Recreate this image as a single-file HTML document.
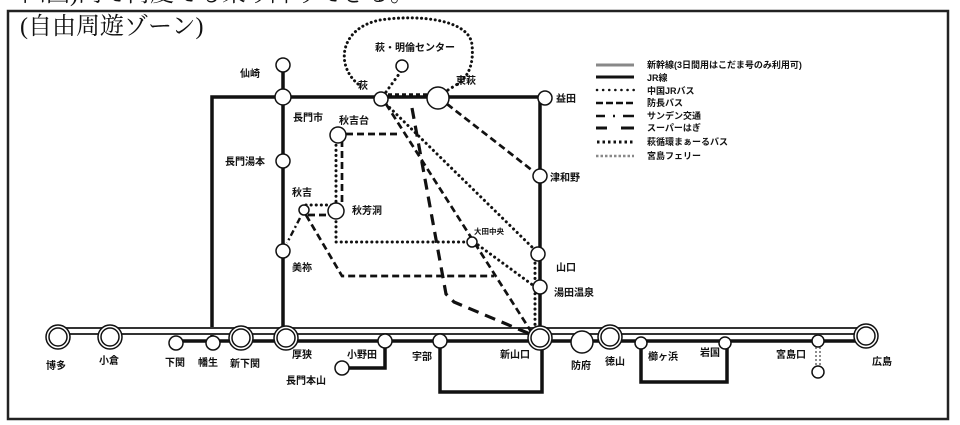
<!DOCTYPE html>
<html><head><meta charset="utf-8"><style>
html,body{margin:0;padding:0;background:#fff;width:960px;height:425px;overflow:hidden}
svg{display:block}
text{font-family:"Liberation Sans","Noto Sans CJK JP",sans-serif;font-weight:bold;fill:#111}
text.t{font-family:"Liberation Serif","Noto Serif CJK SC",serif;font-weight:normal}
</style></head><body>
<svg width="960" height="425" viewBox="0 0 960 425" xmlns="http://www.w3.org/2000/svg">
<text class="t" x="22" y="1" font-size="24">四国)内で何度でも乗り降りできる。</text>
<rect x="8" y="11" width="940" height="408" fill="#fff" stroke="#222" stroke-width="2.5"/>
<text class="t" x="20" y="34" font-size="24">(自由周遊ゾーン)</text>

<g fill="none" stroke="#111">
<path d="M358,84 C335,65 340,28 380,20 C420,14 470,20 472,45 C474,65 468,78 455,86" stroke-width="3" stroke-dasharray="0.1 4.5" stroke-linecap="round"/>
<path d="M212,341 V97 H540 V341" stroke-width="3.5"/>
<path d="M283,65 V338" stroke-width="3.5"/>
<path d="M176,341 H866" stroke-width="3.5"/>
<path d="M385,341 V368 H342" stroke-width="3.5"/>
<path d="M440,341 V392 H542 V341" stroke-width="3.5"/>
<path d="M641,343 V382 H727 V343" stroke-width="3.5"/>
<path d="M58,331 H866" stroke="#333" stroke-width="8"/>
<path d="M58,331 H866" stroke="#fff" stroke-width="4"/>
<path d="M816,347 V367 M820,347 V367" stroke="#666" stroke-width="1.5" stroke-dasharray="2 2"/>
<path d="M388,95 H432" stroke-width="3.5" stroke-dasharray="4 3"/>
<g stroke-width="3" stroke-dasharray="0.1 5" stroke-linecap="round">
<path d="M386,92 L402,70"/>
<path d="M448,90 L464,80"/>
<path d="M386,104 L535,250"/>
<path d="M474,242 L534,286"/>
<path d="M336,135 V242 H470"/>
<path d="M306,205 H332"/>
<path d="M535,258 V330"/>
</g>
<g stroke-width="2.7" stroke-dasharray="7 4">
<path d="M346,134 H400"/>
<path d="M342,140 V213"/>
<path d="M308,215 H332"/>
<path d="M306,215 L342,276 H494"/>
<path d="M447,104 L533,171"/>
<path d="M386,104 L532,333"/>
</g>
<path d="M300,218 L287,243" stroke-width="2.4" stroke-dasharray="6 3 2 3"/>
<path d="M412,108 L446,294 L454,302 L530,334" stroke-width="3.2" stroke-dasharray="11 7"/>
</g>

<g fill="#fff" stroke="#111" stroke-width="1.5">
<circle cx="283" cy="65" r="7"/>
<circle cx="283" cy="97" r="8"/>
<circle cx="283" cy="161" r="7"/>
<circle cx="283" cy="251" r="7"/>
<circle cx="381" cy="99" r="7"/>
<circle cx="438" cy="98" r="11"/>
<circle cx="402" cy="66" r="6"/>
<circle cx="545" cy="98" r="7"/>
<circle cx="540" cy="176" r="7"/>
<circle cx="538" cy="254" r="7"/>
<circle cx="540" cy="287" r="7"/>
<circle cx="338" cy="135" r="8"/>
<circle cx="336" cy="211" r="8"/>
<circle cx="304" cy="210" r="5"/>
<circle cx="472" cy="242" r="5"/>
<circle cx="176" cy="343" r="7"/>
<circle cx="213" cy="343" r="7"/>
<circle cx="385" cy="341" r="7"/>
<circle cx="440" cy="341" r="7"/>
<circle cx="342" cy="368" r="7"/>
<circle cx="582" cy="342" r="11"/>
<circle cx="641" cy="343" r="6"/>
<circle cx="725" cy="343" r="6"/>
<circle cx="818" cy="341" r="6"/>
<circle cx="818" cy="372" r="6"/>
</g>
<g fill="#fff" stroke="#111" stroke-width="1.5">
<circle cx="58" cy="337" r="12"/><circle cx="58" cy="337" r="9"/>
<circle cx="110" cy="337" r="12"/><circle cx="110" cy="337" r="9"/>
<circle cx="241" cy="338" r="12"/><circle cx="241" cy="338" r="9"/>
<circle cx="286" cy="338" r="12"/><circle cx="286" cy="338" r="9"/>
<circle cx="540" cy="338" r="12"/><circle cx="540" cy="338" r="9"/>
<circle cx="610" cy="337" r="12"/><circle cx="610" cy="337" r="9"/>
<circle cx="866" cy="336" r="12"/><circle cx="866" cy="336" r="9"/>
</g>

<g font-size="10">
<text x="375" y="51">萩・明倫センター</text>
<text x="358" y="89">萩</text>
<text x="456" y="84">東萩</text>
<text x="240" y="77">仙崎</text>
<text x="293" y="121">長門市</text>
<text x="339" y="124">秋吉台</text>
<text x="225" y="165">長門湯本</text>
<text x="292" y="196">秋吉</text>
<text x="352" y="214">秋芳洞</text>
<text x="474" y="234" font-size="7.5">大田中央</text>
<text x="292" y="271">美祢</text>
<text x="556" y="102">益田</text>
<text x="550" y="181">津和野</text>
<text x="556" y="271">山口</text>
<text x="554" y="296">湯田温泉</text>
<text x="46" y="369">博多</text>
<text x="99" y="364">小倉</text>
<text x="165" y="366">下関</text>
<text x="198" y="366">幡生</text>
<text x="230" y="367">新下関</text>
<text x="292" y="358">厚狭</text>
<text x="347" y="358">小野田</text>
<text x="286" y="384">長門本山</text>
<text x="412" y="360">宇部</text>
<text x="500" y="358">新山口</text>
<text x="571" y="369">防府</text>
<text x="605" y="365">徳山</text>
<text x="648" y="360">櫛ヶ浜</text>
<text x="700" y="356">岩国</text>
<text x="776" y="358">宮島口</text>
<text x="872" y="365">広島</text>
</g>

<g fill="none">
<path d="M596,65 H634" stroke="#888" stroke-width="3"/>
<path d="M596,77 H634" stroke="#111" stroke-width="3"/>
<path d="M597,90 H634" stroke="#111" stroke-width="2.5" stroke-dasharray="0.1 6" stroke-linecap="round"/>
<path d="M596,103 H634" stroke="#111" stroke-width="2.5" stroke-dasharray="7 3"/>
<path d="M596,116 H605 M613,116 H615 M623,116 H634" stroke="#111" stroke-width="2.5"/>
<path d="M596,128 H607 M621,128 H634" stroke="#111" stroke-width="3"/>
<path d="M597,142 H634" stroke="#111" stroke-width="3" stroke-dasharray="2.5 3"/>
<path d="M596,156 H634" stroke="#888" stroke-width="2.5" stroke-dasharray="2.5 2"/>
</g>
<g font-size="9">
<text x="647" y="68">新幹線(3日間用はこだま号のみ利用可)</text>
<text x="647" y="81">JR線</text>
<text x="647" y="94">中国JRバス</text>
<text x="647" y="106">防長バス</text>
<text x="647" y="119">サンデン交通</text>
<text x="647" y="131">スーパーはぎ</text>
<text x="647" y="145">萩循環まぁーるバス</text>
<text x="647" y="159">宮島フェリー</text>
</g>
</svg>
</body></html>
